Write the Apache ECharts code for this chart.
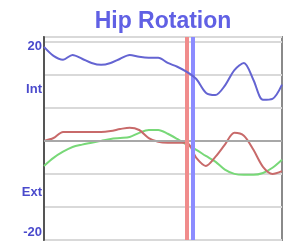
<!DOCTYPE html>
<html><head><meta charset="utf-8">
<script src="https://cdn.jsdelivr.net/npm/echarts@6/dist/echarts.min.js"></script>
<style>html,body{margin:0;padding:0;background:#fff}#c{width:287px;height:245px}</style>
</head><body><div id="c"></div>
<script>
const title = "Hip Rotation";
const gaitPct = [0,4,8,12,16,20,24,28,32,36,40,44,48,52,56,60,64,68,72,76,80,84,88,92,96,100];
const blueSeries = [19.9,18.0,17.2,18.2,17.4,16.5,16.1,16.5,17.4,18.2,17.8,17.6,17.6,16.5,15.7,14.6,13.1,10.2,9.7,11.7,15.0,16.5,12.9,8.7,8.9,11.9];
const redSeries = [0,0.6,1.9,1.9,1.9,1.9,1.9,2.1,2.5,2.8,2.3,0.6,-0.2,-0.4,-0.4,-0.4,-3.6,-5.3,-3.4,-0.8,1.7,1.1,-1.9,-5.5,-7.0,-6.4];
const greenSeries = [-5.3,-3.6,-2.3,-1.3,-0.8,-0.4,0,0.4,0.6,0.8,1.7,2.3,2.3,1.5,0.4,-0.8,-1.9,-3.2,-4.4,-6.1,-7.0,-7.2,-7.2,-6.8,-5.7,-4.0];
const yTickValues = [20, 11, -11, -19.5];
const yTickLabels = ["20", "Int", "Ext", "-20"];
const redMarker = 60;
const blueMarker = 62.5;
const zeroLine = 0;

const pairs = arr => gaitPct.map((x, i) => [x, arr[i]]);
const chart = echarts.init(document.getElementById('c'), null, {renderer: 'canvas'});
chart.setOption({
  animation: false,
  backgroundColor: '#fff',
  title: {text: title, left: 158, textAlign: 'center', top: 5,
    textStyle: {color: '#6060e4', fontSize: 23, fontWeight: 'bold', fontFamily: 'Liberation Sans'}},
  grid: {left: 44, right: 5, top: 37, bottom: 5, show: true, borderColor: '#8a8a8a', borderWidth: 2, containLabel: false},
  xAxis: {type: 'value', min: 0, max: 100, axisLine: {show: false}, axisTick: {show: false}, axisLabel: {show: false}, splitLine: {show: false}},
  yAxis: {type: 'value', min: -21, max: 22, interval: 7,
    axisLine: {show: true, onZero: false, lineStyle: {color: '#555', width: 2}},
    axisTick: {show: false},
    splitLine: {show: true, lineStyle: {color: '#d9d9d9', width: 2}},
    axisLabel: {show: true, customValues: yTickValues, margin: 2,
      formatter: v => { const i = yTickValues.indexOf(v); return i >= 0 ? yTickLabels[i] : ''; },
      color: '#4a4acc', fontSize: 13, fontWeight: 'bold', fontFamily: 'Liberation Sans'}},
  series: [
    {type: 'line', data: pairs(greenSeries), showSymbol: false, smooth: 0.3, lineStyle: {color: '#78d878', width: 2}, z: 3},
    {type: 'line', data: pairs(redSeries), showSymbol: false, smooth: 0.3, lineStyle: {color: '#c86a6a', width: 2}, z: 4,
      markLine: {silent: true, symbol: 'none', label: {show: false},
        data: [{yAxis: zeroLine, lineStyle: {color: '#a8a8a8', width: 2, type: 'solid'}}]}},
    {type: 'line', data: pairs(blueSeries), showSymbol: false, smooth: 0.3, lineStyle: {color: '#6464d2', width: 2}, z: 5,
      markLine: {silent: true, symbol: 'none', label: {show: false},
        data: [
          {xAxis: redMarker, lineStyle: {color: '#f08c8c', width: 4, type: 'solid'}},
          {xAxis: blueMarker, lineStyle: {color: '#8c8cff', width: 4, type: 'solid'}}
        ]}}
  ]
});
</script></body></html>
